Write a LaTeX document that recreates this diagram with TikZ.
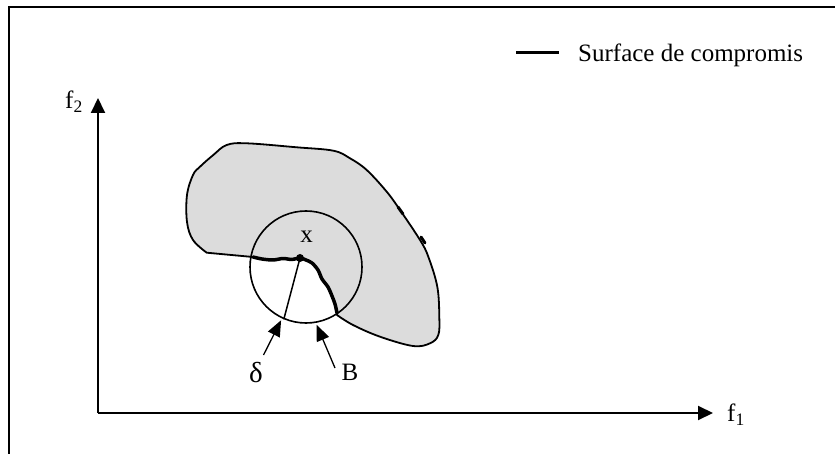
\documentclass[tikz,border=0pt]{standalone}
\usepackage{fontspec}
\setmainfont{Liberation Serif}
\usetikzlibrary{arrows.meta,calc}
\definecolor{ink}{HTML}{000000}
\definecolor{blobgray}{HTML}{DCDCDC}

\begin{document}
\begin{tikzpicture}[x=1pt,y=-1pt,font=\fontsize{25}{30}\selectfont,
    axis/.style={draw=ink,line width=2pt,-{Triangle[length=15pt,width=14pt]}},
    pointer/.style={draw=ink,line width=1.3pt,shorten >=2pt,-{Triangle[length=16pt,width=13pt]}},
    edge/.style={draw=ink,line width=1.8pt,line join=round},
    compromise/.style={draw=ink,line width=3.5pt,line cap=round,line join=round},
    lbl/.style={inner sep=0pt}]
  \useasboundingbox (0,0) rectangle (835,454);
  % frame (cut at right and bottom)
  \draw[ink,line width=2pt] (9,460) -- (9,7) -- (840,7);

  % legend
  \node[lbl,anchor=base west] (legend) at (578,62) {Surface de compromis};
  \draw[compromise,line width=3pt,line cap=butt] ($(legend.west)+(-62,-3)$) -- ($(legend.west)+(-19,-3)$);

  % axes
  \coordinate (o) at (98,413);
  \coordinate (ytip) at (98,98);
  \coordinate (xtip) at (713,413);
  \draw[axis] (o) -- (ytip);
  \draw[axis] (o) -- (xtip);
  \node[lbl] (f2) at (74,102) {f\textsubscript{2}};
  \node[lbl] (f1) at (736,415) {f\textsubscript{1}};

  % feasible region
  \filldraw[edge,fill=blobgray] (206.7,252.7) -- (253,257)
    -- plot[smooth,tension=0.5] coordinates {(253,257) (262,259) (273,260) (283,258.5)
         (292,259.5) (300,258) (306,260) (312,263) (318,270) (322,279) (328,287)
         (332,296) (335,304) (337,313)}
    -- plot[smooth,tension=0.6] coordinates {(337,315) (353,325) (380,336.7) (413,346)
         (430,343.3) (438.3,335) (439.3,316.7) (437.3,286.7) (428.3,256.7) (420,240)
         (400,210) (386.7,191.7) (366.7,170) (350,158.3) (333.3,150.7) (296.7,147.3)
         (246.7,143.3) (226.7,145) (213.3,155) (200,166.7) (193,175) (187,195)
         (187,222) (193,240) (206.7,252.7)} -- cycle;
  % small pieces of the trade-off surface on the right edge
  \draw[compromise,line width=3pt] (398,207) -- (403,214);
  \draw[compromise,line width=3pt] (421,237) -- (425,243);

  % ball around x
  \node[draw=ink,circle,line width=1.6pt,minimum size=112pt,inner sep=0pt] (ball) at (306,267) {};
  \draw[compromise] plot[smooth,tension=0.5] coordinates {(253,257) (262,259) (273,260)
       (283,258.5) (292,259.5) (300,258) (306,260) (312,263) (318,270) (322,279)
       (328,287) (332,296) (335,304) (337,313)};
  \node[circle,fill=ink,inner sep=0pt,minimum size=8pt] (xpt) at (300,258) {};
  \node[lbl] (xlbl) at (306.7,237) {x};
  \draw[ink,line width=1.5pt] (xpt.center) -- (ball.247);

  % labels
  \node[lbl,font=\fontsize{29}{32}\selectfont] (delta) at (256,373) {δ};
  \node[lbl] (blbl) at (350,372) {B};
  \coordinate (dtail) at (263.5,355);
  \coordinate (btail) at (335,368);
  \draw[pointer] (dtail) -- (ball.245);
  \draw[pointer] (btail) -- (ball.280);
\end{tikzpicture}
\end{document}
